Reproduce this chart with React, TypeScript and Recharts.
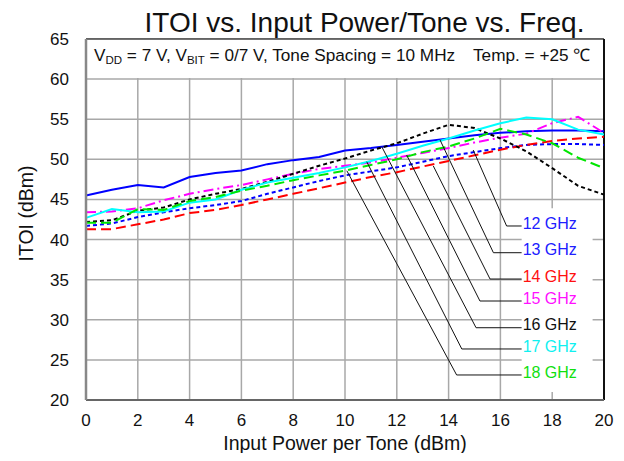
import React from 'react';
import {
  LineChart,
  Line,
  XAxis,
  YAxis,
  CartesianGrid,
  ReferenceLine,
  ReferenceArea,
  Label,
} from 'recharts';

const xValues = [0, 1, 2, 3, 4, 5, 6, 7, 8, 9, 10, 11, 12, 13, 14, 15, 16, 17, 18, 19, 20];

const itoi12 = [45.5, 46.2, 46.8, 46.5, 47.8, 48.3, 48.6, 49.4, 49.9, 50.3, 51.1, 51.4, 51.8, 52.2, 52.6, 53.0, 53.3, 53.5, 53.6, 53.6, 53.5];
const itoi13 = [41.7, 42.0, 42.8, 43.4, 43.9, 44.3, 44.8, 45.7, 46.5, 47.3, 48.0, 48.5, 49.0, 49.7, 50.4, 50.9, 51.4, 51.8, 51.9, 51.9, 51.8];
const itoi14 = [41.3, 41.3, 41.9, 42.5, 43.3, 43.7, 44.3, 45.0, 45.7, 46.4, 47.1, 47.8, 48.4, 49.1, 49.8, 50.5, 51.2, 51.8, 52.3, 52.6, 52.8];
const itoi15 = [43.4, 43.5, 43.9, 44.9, 45.7, 46.3, 46.8, 47.5, 48.2, 48.8, 49.2, 49.6, 50.2, 50.8, 51.4, 52.1, 52.7, 53.2, 54.5, 55.3, 53.3];
const itoi16 = [42.2, 42.4, 43.6, 44.0, 45.0, 45.7, 46.3, 47.2, 48.2, 49.2, 50.1, 51.1, 52.0, 53.2, 54.3, 53.9, 52.6, 51.0, 48.9, 46.7, 45.6];
const itoi17 = [42.7, 43.8, 43.4, 43.5, 44.6, 45.0, 46.2, 47.1, 47.7, 48.3, 49.0, 49.8, 50.7, 51.7, 52.6, 53.6, 54.5, 55.2, 55.0, 53.7, 53.1];
const itoi18 = [42.1, 42.1, 43.8, 43.7, 44.8, 45.3, 46.1, 46.7, 47.4, 48.0, 48.6, 49.3, 50.0, 50.9, 51.6, 52.6, 53.8, 53.1, 52.0, 50.2, 48.9];

const seriesNames = ['12 GHz', '13 GHz', '14 GHz', '15 GHz', '16 GHz', '17 GHz', '18 GHz'];
const seriesValues = [itoi12, itoi13, itoi14, itoi15, itoi16, itoi17, itoi18];
const seriesColors = ['#0000ff', '#0000ff', '#ff0000', '#ff00ff', '#000000', '#00ffff', '#00e600'];
const labelColors = ['#2020ff', '#2020ff', '#ff1010', '#ff10ff', '#111111', '#10f0f0', '#10e010'];
const seriesDash = [undefined, '4 3', '10 5', '10 4 2 4', '4 3', undefined, '10 5'];

const xTicks = [0, 2, 4, 6, 8, 10, 12, 14, 16, 18, 20];
const yTicks = [20, 25, 30, 35, 40, 45, 50, 55, 60, 65];

// leader lines (data coordinates): point on the curves -> elbow, then horizontal to label
const leaderCurveX = [14.95, 13.67, 13.41, 12.38, 11.42, 10.84, 10.07];
const leaderCurveY = [51.16, 52.41, 49.17, 50.54, 51.57, 49.7, 48.58];
const leaderElbowX = [16.24, 15.73, 15.6, 15.21, 15.06, 14.51, 14.31];
const leaderElbowY = [41.69, 38.36, 35.08, 32.34, 29.01, 26.36, 23.12];
const labelStartX = 16.82;

const data = xValues.map((x, i) => {
  const row: Record<string, number> = { x };
  seriesNames.forEach((name, s) => {
    row[name] = seriesValues[s][i];
  });
  return row;
});

const FONT = '"Liberation Sans", Arial, Helvetica, sans-serif';

export default function App() {
  return (
    <div style={{ position: 'relative', width: 608, height: 445, fontFamily: FONT }}>
      <div
        style={{
          position: 'absolute',
          left: 0,
          width: 608,
          top: 0,
          textAlign: 'center',
          paddingLeft: 105,
          boxSizing: 'border-box',
          fontSize: 28,
          lineHeight: '30px',
          color: '#111',
          whiteSpace: 'nowrap',
        }}
      >
        ITOI vs. Input Power/Tone vs. Freq.
      </div>
      <LineChart
        width={608}
        height={445}
        data={data}
        margin={{ top: 31, right: 12, left: 0, bottom: 0 }}
        style={{ fontFamily: FONT }}
      >
        <CartesianGrid stroke="#a8a8a8" strokeWidth={1.5} vertical horizontal />
        <ReferenceArea x1={0} x2={20} y1={60.15} y2={65} fill="#ffffff" fillOpacity={1} stroke="none" />
        <ReferenceArea x1={labelStartX} x2={19.56} y1={21} y2={43.9} fill="#ffffff" fillOpacity={1} stroke="none" />
        <XAxis
          dataKey="x"
          type="number"
          domain={[0, 20]}
          ticks={xTicks}
          height={53}
          tickSize={0}
          tickMargin={14}
          axisLine={{ stroke: '#666', strokeWidth: 2 }}
          tick={{ fill: '#111', fontSize: 17, fontFamily: FONT }}
        >
          <Label value="Input Power per Tone (dBm)" position="insideBottom" offset={3} fill="#111" fontSize={19.5} fontFamily={FONT} />
        </XAxis>
        <YAxis
          type="number"
          domain={[20, 65]}
          ticks={yTicks}
          width={78}
          tickSize={0}
          tickMargin={17}
          axisLine={{ stroke: '#888', strokeWidth: 2.5 }}
          tick={{ fill: '#111', fontSize: 17, fontFamily: FONT }}
        >
          <Label value="ITOI (dBm)" angle={-90} position="insideLeft" offset={18} dy={-6} fill="#111" fontSize={19.5} fontFamily={FONT} style={{ textAnchor: 'middle' }} />
        </YAxis>
        <ReferenceLine y={65} stroke="#444" strokeWidth={1.5} />
        <ReferenceLine x={20} stroke="#111" strokeWidth={2} />
        {seriesNames.map((name, s) => (
          <Line
            key={name}
            type="linear"
            dataKey={name}
            stroke={seriesColors[s]}
            strokeWidth={2}
            strokeDasharray={seriesDash[s]}
            dot={false}
            activeDot={false}
            isAnimationActive={false}
          />
        ))}
        {seriesNames.map((name, s) => (
          <ReferenceLine
            key={'lead-' + name}
            segment={[
              { x: leaderCurveX[s], y: leaderCurveY[s] },
              { x: leaderElbowX[s], y: leaderElbowY[s] },
            ]}
            stroke="#111"
            strokeWidth={1}
          />
        ))}
        {seriesNames.map((name, s) => (
          <ReferenceLine
            key={'elbow-' + name}
            segment={[
              { x: leaderElbowX[s], y: leaderElbowY[s] },
              { x: labelStartX, y: leaderElbowY[s] },
            ]}
            stroke="#111"
            strokeWidth={1}
            label={{ value: name, position: 'right', offset: 1, fill: labelColors[s], fontSize: 16, fontFamily: FONT, dy: -3 }}
          />
        ))}
      </LineChart>
      <div
        style={{
          position: 'absolute',
          left: 86,
          top: 37,
          fontSize: 17.2,
          lineHeight: '20px',
          color: '#111',
          whiteSpace: 'nowrap',
        }}
      >
        V<sub style={{ fontSize: 11.5, verticalAlign: '-3px' }}>DD</sub> = 7 V, V
        <sub style={{ fontSize: 11.5, verticalAlign: '-3px' }}>BIT</sub> = 0/7 V, Tone Spacing = 10 MHz
      </div>
      <div
        style={{
          position: 'absolute',
          left: 465,
          top: 37,
          fontSize: 17.2,
          lineHeight: '20px',
          color: '#111',
          whiteSpace: 'nowrap',
        }}
      >
        Temp. = +25 ℃
      </div>
    </div>
  );
}
